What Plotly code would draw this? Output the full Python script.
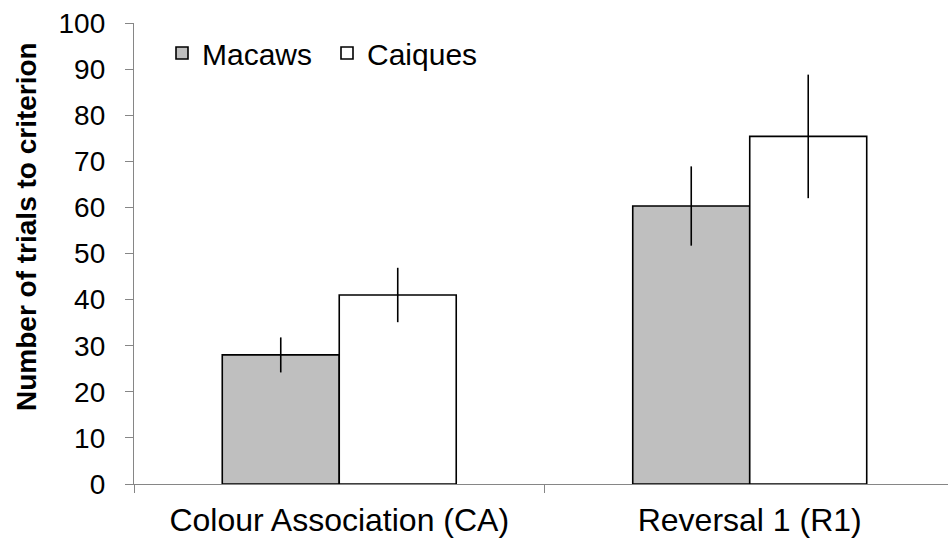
import plotly.graph_objects as go

categories = ["Colour Association (CA)", "Reversal 1 (R1)"]
macaws = [28.0, 60.3]
macaws_err = [3.8, 8.6]
caiques = [41.0, 75.4]
caiques_err = [5.9, 13.4]
y_ticks = list(range(0, 101, 10))

FONT = "Arial, Liberation Sans, sans-serif"
W, H = 948, 547
ML, MR, MT, MB = 134, 0, 23, 63
PW, PH = W - ML - MR, H - MT - MB

fig = go.Figure()
fig.add_trace(go.Bar(
    name="Macaws", x=categories, y=macaws,
    marker=dict(color="#bfbfbf", line=dict(color="black", width=1.6)),
    error_y=dict(type="data", array=macaws_err, visible=True, color="black", thickness=1.6, width=0),
))
fig.add_trace(go.Bar(
    name="Caiques", x=categories, y=caiques,
    marker=dict(color="white", line=dict(color="black", width=1.6)),
    error_y=dict(type="data", array=caiques_err, visible=True, color="black", thickness=1.6, width=0),
))

fig.update_layout(
    width=W, height=H,
    margin=dict(l=ML, r=MR, t=MT, b=MB, pad=0, autoexpand=False),
    plot_bgcolor="white", paper_bgcolor="white",
    barmode="group", bargap=0.43, bargroupgap=0,
    font=dict(family=FONT, color="black"),
    showlegend=True,
    legend=dict(
        orientation="h", x=(162 - ML) / PW, y=(H - MB - 53) / PH,
        xanchor="left", yanchor="middle",
        font=dict(size=30, family=FONT, color="black"),
        bgcolor="rgba(0,0,0,0)", borderwidth=0,
        itemwidth=30, tracegroupgap=0,
        entrywidth=120, entrywidthmode="pixels",
    ),
    xaxis=dict(
        type="category", range=[-0.5, 1.483], automargin=False,
        showline=True, linecolor="#868686", linewidth=1.3,
        ticks="outside", tickson="boundaries", ticklen=8, tickcolor="#868686", tickwidth=1.3,
        tickfont=dict(size=32, family=FONT, color="black"),
        showgrid=False, zeroline=False, ticklabelstandoff=7,
    ),
    yaxis=dict(
        range=[0, 100], tickvals=y_ticks, ticktext=[str(v) for v in y_ticks],
        automargin=False,
        showline=True, linecolor="#868686", linewidth=1.3,
        ticks="outside", ticklen=8, tickcolor="#868686", tickwidth=1.3,
        tickfont=dict(size=28, family=FONT, color="black"),
        showgrid=False, zeroline=False, ticklabelstandoff=14,
    ),
    annotations=[dict(
        text="<b>Number of trials to criterion</b>", textangle=-90,
        xref="paper", yref="paper",
        x=(26 - ML) / PW, y=(H - MB - 227) / PH,
        xanchor="center", yanchor="middle", showarrow=False,
        font=dict(size=28, family=FONT, color="black"),
    )],
)

fig.write_html(
    "out.html",
    config={"displayModeBar": False},
    post_script="document.body.style.margin='0';document.body.style.overflow='hidden';",
)
